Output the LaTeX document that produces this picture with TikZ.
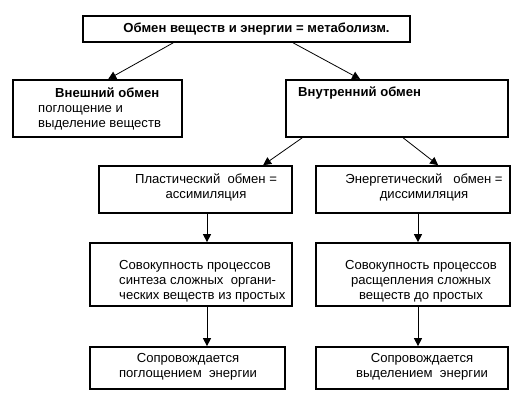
\documentclass[tikz,border=0pt]{standalone}
\usepackage{fontspec}
\setmainfont{Liberation Sans}
\usepackage{tikz}
\usetikzlibrary{arrows.meta}
\tikzset{
  flow box/.style={draw, line width=1.7pt, inner sep=0pt},
  box text/.style={inner sep=0pt, font=\fontsize{13.1}{15}\selectfont, align=center},
  flow arrow/.style={-{Triangle[width=8pt,length=8pt]}, line width=0.8pt},
}

\begin{document}
\begin{tikzpicture}[x=1pt, y=-1pt]
  \useasboundingbox [fill=white] (0,0) rectangle (530,400);

% boxes
  \node [flow box, minimum width=327pt, minimum height=26pt] (metab) at (246.5,29) {};
  \node [flow box, minimum width=169pt, minimum height=57pt] (outer) at (97.5,108.5) {};
  \node [flow box, minimum width=222pt, minimum height=57pt] (inner) at (397,108.5) {};
  \node [flow box, minimum width=193pt, minimum height=47pt] (plast) at (195.5,189.5) {};
  \node [flow box, minimum width=194pt, minimum height=47pt] (energ) at (413,189.5) {};
  \node [flow box, minimum width=202pt, minimum height=63pt] (synth) at (191,274.5) {};
  \node [flow box, minimum width=194pt, minimum height=63pt] (split) at (413,274.5) {};
  \node [flow box, minimum width=195pt, minimum height=42pt] (absorb) at (187.5,368) {};
  \node [flow box, minimum width=192pt, minimum height=42pt] (release) at (412,368) {};

% texts
  \node [box text, font=\fontsize{13.1}{15}\selectfont\bfseries] (metab text) at (256.5,29) {Обмен веществ и энергии = метаболизм.};
  \node [box text, align=left, anchor=west] (outer text) at (38,108.5) {\hspace*{17pt}\textbf{Внешний обмен}\\поглощение и\\выделение веществ};
  \node [box text, anchor=west, font=\fontsize{13.1}{15}\selectfont\bfseries] (inner text) at (298,93) {Внутренний обмен};
  \node [box text] (plast text) at (206,187) {Пластический\ \ обмен =\\ассимиляция};
  \node [box text] (energ text) at (424,187) {Энергетический\ \ \ обмен =\\диссимиляция};
  \node [box text, align=left, anchor=west] (synth text) at (119,281) {Совокупность процессов\\синтеза сложных\ \ органи-\\ческих веществ из простых};
  \node [box text] (split text) at (421,281) {Совокупность процессов\\расщепления сложных\\веществ до простых};
  \node [box text] (absorb text) at (188,367) {Сопровождается\\поглощением\ \ энергии};
  \node [box text] (release text) at (422,367) {Сопровождается\\выделением\ \ энергии};

% arrows
  \draw [flow arrow] ([xshift=91pt]metab.south west) -- ([xshift=96pt]outer.north west);
  \draw [flow arrow] ([xshift=211pt]metab.south west) -- ([xshift=75pt]inner.north west);
  \draw [flow arrow] ([xshift=17pt]inner.south west) -- ([xshift=165pt]plast.north west);
  \draw [flow arrow] ([xshift=118pt]inner.south west) -- ([xshift=123pt]energ.north west);
  \draw [flow arrow] ([xshift=11.5pt]plast.south) -- ([xshift=16pt]synth.north);
  \draw [flow arrow] ([xshift=5pt]energ.south) -- ([xshift=5pt]split.north);
  \draw [flow arrow] ([xshift=16pt]synth.south) -- ([xshift=19.5pt]absorb.north);
  \draw [flow arrow] ([xshift=5pt]split.south) -- ([xshift=6pt]release.north);
\end{tikzpicture}
\end{document}
